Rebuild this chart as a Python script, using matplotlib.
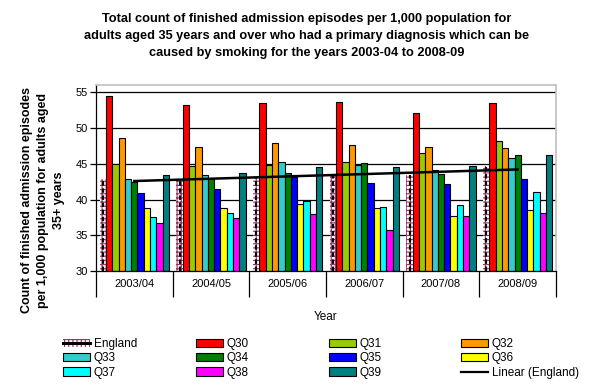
import numpy as np
import matplotlib
matplotlib.use("Agg")
import matplotlib.pyplot as plt
from matplotlib.patches import Patch
from matplotlib.lines import Line2D

plt.rcParams['font.family'] = ['Liberation Sans', 'DejaVu Sans']
plt.rcParams['hatch.linewidth'] = 0.8

years = ['2003/04', '2004/05', '2005/06', '2006/07', '2007/08', '2008/09']

# values (per 1,000 population)
england = [42.9, 42.75, 43.2, 43.45, 43.45, 44.7]
q30 = [54.5, 53.2, 53.5, 53.6, 52.1, 53.5]
q31 = [45.0, 44.7, 44.85, 45.2, 46.5, 48.2]
q32 = [48.6, 47.3, 47.9, 47.6, 47.3, 47.2]
q33 = [42.9, 43.5, 45.2, 44.85, 44.15, 45.8]
q34 = [42.4, 42.9, 43.7, 45.1, 43.6, 46.3]
q35 = [40.9, 41.5, 43.1, 42.3, 42.15, 42.9]
q36 = [38.8, 38.8, 39.4, 38.8, 37.7, 38.5]
q37 = [37.5, 38.1, 39.8, 38.9, 39.2, 41.0]
q38 = [36.7, 37.4, 38.0, 35.7, 37.7, 38.1]
q39 = [43.4, 43.7, 44.5, 44.5, 44.7, 46.3]

series = [('Q30', q30, '#FF0000'), ('Q31', q31, '#99CC00'), ('Q32', q32, '#FF9900'),
          ('Q33', q33, '#33CCCC'), ('Q34', q34, '#008000'), ('Q35', q35, '#0000FF'),
          ('Q36', q36, '#FFFF00'), ('Q37', q37, '#00FFFF'), ('Q38', q38, '#FF00FF'),
          ('Q39', q39, '#008080')]

fig = plt.figure(figsize=(6, 3.88), dpi=100)
ax = fig.add_axes([96 / 600, 1 - 271 / 388, 460 / 600, 185.7 / 388])

x = np.arange(len(years))
w = 0.082
n = len(series) + 1

# England bar: patterned with dashed black line down the middle
eng_off = (0 - (n - 1) / 2) * w
ax.bar(x + eng_off, np.array(england) - 30, w, bottom=30, facecolor='white',
       edgecolor='#993366', hatch='++++', linewidth=0, zorder=2)
ax.vlines(x + eng_off, 30, england, colors='black', linewidth=1.6,
          linestyles=(0, (2, 1.2)), zorder=3)

for i, (name, vals, col) in enumerate(series):
    off = (i + 1 - (n - 1) / 2) * w
    ax.bar(x + off, np.array(vals) - 30, w, bottom=30, color=col,
           edgecolor='black', linewidth=0.8, zorder=2)

# Linear (England) trend
coef = np.polyfit(x, england, 1)
ax.plot([x[0], x[-1]], np.polyval(coef, [x[0], x[-1]]), color='black',
        linewidth=1.8, zorder=5)

ax.set_xlim(-0.5, 5.5)
ax.set_ylim(30, 56)
ax.set_yticks([30, 35, 40, 45, 50, 55])
for yv in [35, 40, 45, 50, 55]:
    ax.axhline(yv, color='black', linewidth=0.9, zorder=1)

ax.set_xticks(x)
ax.set_xticklabels(years, fontsize=8)
ax.set_xticks(np.arange(-0.5, 6, 1), minor=True)
ax.tick_params(axis='x', which='major', length=0, pad=6)
ax.tick_params(axis='x', which='minor', length=19, width=0.9, color='black')
ax.tick_params(axis='y', length=4, width=0.9, pad=2, labelsize=8)

ax.spines['left'].set_linewidth(0.9)
ax.spines['bottom'].set_linewidth(0.9)
ax.spines['top'].set_color('#C0C0C0')
ax.spines['right'].set_color('#C0C0C0')
ax.spines['top'].set_linewidth(1.2)
ax.spines['right'].set_linewidth(1.2)

fig.text(307 / 600, 1 - 36 / 388,
         'Total count of finished admission episodes per 1,000 population for\n'
         'adults aged 35 years and over who had a primary diagnosis which can be\n'
         'caused by smoking for the years 2003-04 to 2008-09',
         ha='center', va='center', fontsize=9.2, fontweight='bold', linespacing=1.55)

fig.text(43 / 600, 1 - 200 / 388,
         'Count of finished admission episodes\nper 1,000 population for adults aged\n35+ years',
         rotation=90, ha='center', va='center', fontsize=9, fontweight='bold',
         multialignment='center', linespacing=1.45)

fig.text(326 / 600, 1 - 317 / 388, 'Year', ha='center', va='center', fontsize=8.5)

# legend, four columns placed by hand
eng_handle = (Patch(facecolor='white', edgecolor='#993366', hatch='++++', linewidth=0),
              Line2D([], [], color='black', linewidth=2.2))
handles = [eng_handle] + [Patch(facecolor=c, edgecolor='black', linewidth=0.8) for _, _, c in series]
handles.append(Line2D([], [], color='black', linewidth=1.6))
labels = ['England'] + [s[0] for s in series] + ['Linear (England)']

col_x = [63, 196, 329, 461]
for c in range(4):
    idx = [c, c + 4, c + 8]
    fig.legend([handles[i] for i in idx], [labels[i] for i in idx],
               loc='upper left', bbox_to_anchor=(col_x[c] / 600, 1 - 338 / 388),
               frameon=False, fontsize=8.5, handlelength=2.3, handleheight=0.7,
               handletextpad=0.3, labelspacing=0.2, borderpad=0, borderaxespad=0)

fig.savefig('out.png', dpi=100)
